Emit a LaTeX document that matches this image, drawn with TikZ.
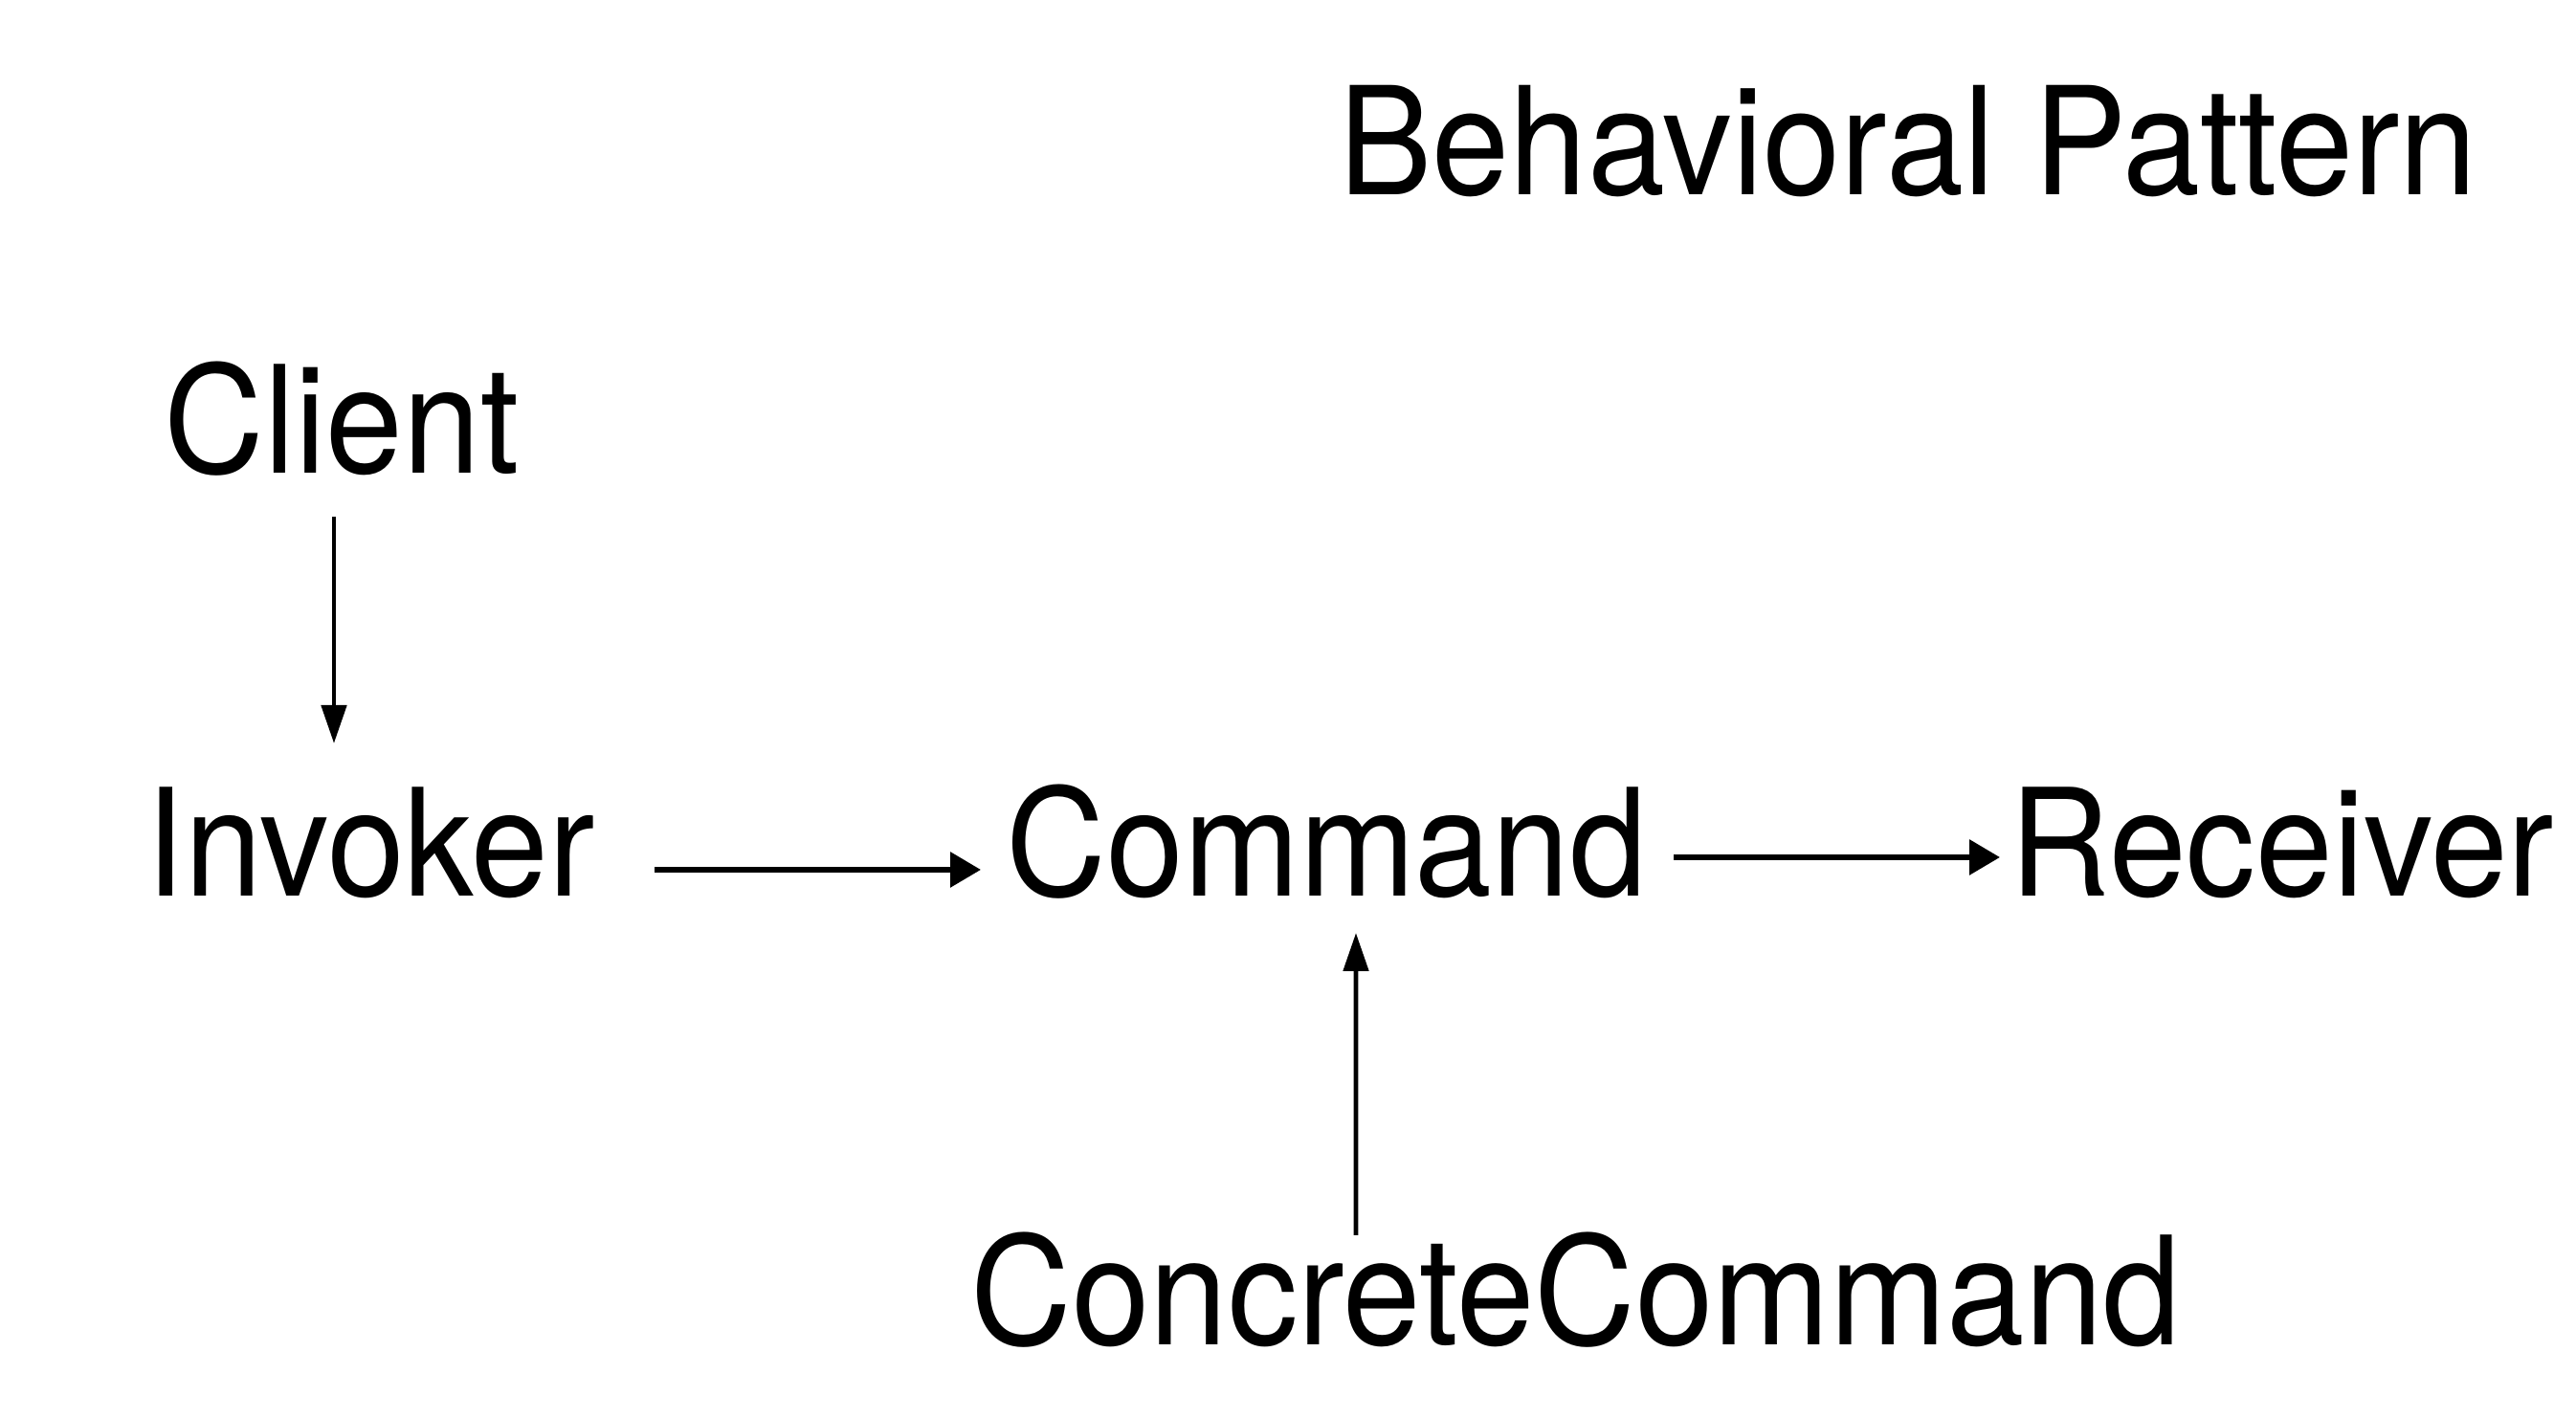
\documentclass[tikz,border=0pt]{standalone}
\usepackage{fontspec}
\setmainfont{TeX Gyre Heros}[FakeStretch=0.93]
\usetikzlibrary{arrows.meta, calc}

\begin{document}
\begin{tikzpicture}[
	lbl/.style={anchor=base west, inner sep=0pt, font=\fontsize{44.4}{50}\selectfont},
	varr/.style={draw, line width=1.4pt, -{Triangle[length=4mm, width=2.6mm]}},
	harr/.style={draw, line width=1.7pt, -{Triangle[length=3.2mm, width=3.6mm]}}
	]
	\useasboundingbox (0,0) rectangle (26.92,14.82);

	\node[lbl, font=\fontsize{44.6}{50}\selectfont] (title) at (13.99,12.78) {Behavioral Pattern};
	\node[lbl] (client) at (1.71,9.87) {Client};
	\node[lbl] (invoker) at ([yshift=-4.42cm, xshift=-0.19cm]client.base west) {Invoker};
	\node[lbl] (command) at ([xshift=8.99cm]invoker.base west) {Command};
	\node[lbl] (receiver) at ([xshift=10.49cm]command.base west) {Receiver};
	\node[lbl, font=\fontsize{44.8}{50}\selectfont] (concrete) at ([yshift=-4.69cm, xshift=-0.37cm]command.base west) {ConcreteCommand};

	\path
		($(client.base west)+(1.78,-0.45)$) edge[varr] ($(invoker.base west)+(1.97,1.60)$)
		($(concrete.base west)+(4.03,1.15)$) edge[varr] ($(command.base west)+(3.66,-0.38)$)
		($(invoker.base west)+(5.32,0.28)$) edge[harr] ($(command.base west)+(-0.26,0.28)$)
		($(command.base west)+(6.98,0.41)$) edge[harr] ($(receiver.base west)+(-0.10,0.41)$)
		;
\end{tikzpicture}
\end{document}
